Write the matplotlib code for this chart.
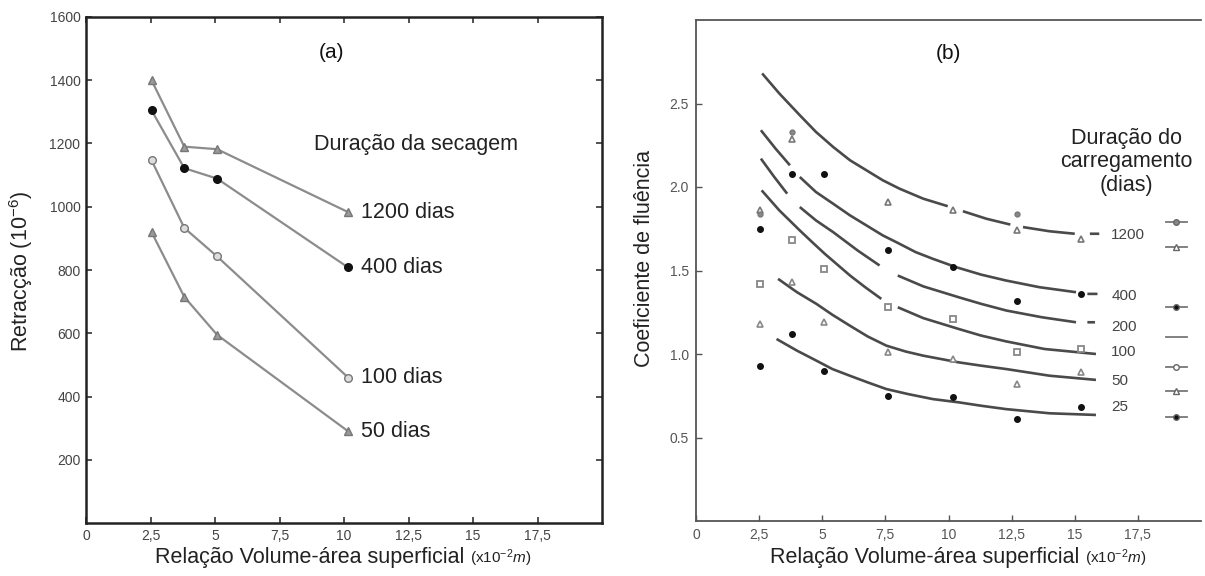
import numpy as np
import matplotlib.pyplot as plt

plt.rcParams['font.family'] = ['Liberation Sans', 'DejaVu Sans']
plt.rcParams['mathtext.fontset'] = 'custom'
plt.rcParams['mathtext.rm'] = 'Liberation Sans'
plt.rcParams['mathtext.it'] = 'Liberation Sans:italic'

nan = np.nan

# ---- (a) retracção vs relação volume-área
vs_a = [2.54, 3.81, 5.08, 10.16]
retr_1200 = [1400, 1190, 1182, 983]
retr_400 = [1305, 1122, 1089, 808]
retr_100 = [1147, 933, 843, 460]
retr_50 = [920, 715, 595, 290]
dias_a = ["1200 dias", "400 dias", "100 dias", "50 dias"]

# ---- (b) coeficiente de fluência: pontos medidos
vs_b = [2.54, 3.81, 5.08, 7.62, 10.16, 12.7, 15.24]
vs_1200 = [2.54, 3.81, 7.62, 10.16, 12.7, 15.24]
fl_1200 = [1.86, 2.29, 1.91, 1.86, 1.74, 1.69]
vs_1200b = [2.54, 3.81, 12.7]
fl_1200b = [1.84, 2.33, 1.84]
fl_400 = [1.75, 2.08, 2.08, 1.62, 1.52, 1.32, 1.36]
fl_100 = [1.42, 1.68, 1.51, 1.28, 1.21, 1.01, 1.03]
fl_50 = [1.18, 1.43, 1.19, 1.01, 0.97, 0.82, 0.89]
fl_25 = [0.93, 1.12, 0.90, 0.75, 0.74, 0.61, 0.68]

# curvas ajustadas (nan = interrupção do traço)
cx_1200 = [2.62, 3.3, 4.11, 4.75, 5.43, 6.1, 6.75, 7.4, 8.06, 9.0, 9.97, nan,
           10.57, 11.5, 12.45, nan, 12.95, 14.0, 15.0, nan, 15.6, 15.97]
cy_1200 = [2.68, 2.56, 2.43, 2.33, 2.24, 2.16, 2.10, 2.04, 1.99, 1.93, 1.885, nan,
           1.855, 1.81, 1.775, nan, 1.76, 1.735, 1.72, nan, 1.72, 1.72]
cx_400 = [2.57, 3.15, 3.72, nan, 4.11, 4.75, 5.43, 6.1, 6.75, 7.4, 8.06, 8.7, 9.38,
          10.3, 11.3, 12.28, 13.6, 15.05, nan, 15.5, 15.9]
cy_400 = [2.34, 2.23, 2.13, nan, 2.06, 1.97, 1.90, 1.83, 1.77, 1.71, 1.66, 1.61, 1.57,
          1.52, 1.475, 1.44, 1.40, 1.37, nan, 1.36, 1.36]
cx_200 = [2.57, 3.1, 3.61, nan, 4.11, 4.75, 5.43, 6.4, 7.27, nan, 7.99, 9.0, 10.4,
          11.3, 12.3, 13.7, 15.05, nan, 15.5, 15.8]
cy_200 = [2.17, 2.06, 1.96, nan, 1.88, 1.80, 1.73, 1.62, 1.53, nan, 1.47, 1.405, 1.34,
          1.30, 1.26, 1.22, 1.19, nan, 1.19, 1.19]
cx_100 = [2.6, 3.3, 4.11, 4.6, 5.1, 6.1, 6.7, 7.34, nan, 7.99, 9.0, 10.4, 11.3, 12.3,
          13.8, 15.84]
cy_100 = [1.98, 1.86, 1.74, 1.67, 1.60, 1.47, 1.40, 1.33, nan, 1.28, 1.215, 1.15, 1.11,
          1.075, 1.03, 1.00]
cx_50 = [3.25, 4.0, 4.77, 5.4, 6.09, 6.8, 7.54, 8.3, 9.0, 10.4, 11.3, 12.28, 14.0, 15.84]
cy_50 = [1.45, 1.37, 1.30, 1.235, 1.17, 1.105, 1.05, 1.015, 0.99, 0.95, 0.93, 0.91,
         0.87, 0.845]
cx_25 = [3.19, 4.0, 4.77, 5.4, 6.09, 6.8, 7.54, 8.4, 9.38, 10.43, 11.3, 12.28, 14.0, 15.84]
cy_25 = [1.09, 1.02, 0.96, 0.91, 0.87, 0.83, 0.79, 0.76, 0.73, 0.71, 0.69, 0.67,
         0.645, 0.635]

dias_b = ["1200", "400", "200", "100", "50", "25"]
dias_b_y = [1.71, 1.35, 1.16, 1.01, 0.84, 0.68]
leg_y = [1.79, 1.64, 1.28, 1.10, 0.92, 0.78, 0.62]

xticks = [0, 2.5, 5, 7.5, 10, 12.5, 15, 17.5]
xticklabels = ["0", "2,5", "5", "7,5", "10", "12,5", "15", "17,5"]

fig = plt.figure(figsize=(12.05, 5.76), dpi=100)

# ================= (a)
ax1 = fig.add_axes([86/1205, 1-523/576, 516/1205, 506/576])
gl = '#8c8c8c'
ax1.plot(vs_a, retr_1200, color=gl, lw=1.6, marker='^', ms=5.5, mfc='#999', mec='#777')
ax1.plot(vs_a, retr_400, color=gl, lw=1.6, marker='o', ms=5.5, mfc='#111', mec='#111')
ax1.plot(vs_a, retr_100, color=gl, lw=1.6, marker='o', ms=5.5, mfc='#ddd', mec='#777')
ax1.plot(vs_a, retr_50, color=gl, lw=1.6, marker='^', ms=5.5, mfc='#999', mec='#777')
for yv, lab in zip([retr_1200[-1], retr_400[-1], retr_100[-1], retr_50[-1]], dias_a):
    ax1.text(10.65, yv, lab, fontsize=15.5, color='#222', va='center', ha='left')
ax1.text(8.85, 1196, "Duração da secagem", fontsize=15.5, color='#222', va='center', ha='left')
ax1.text(9.5, 1487, "(a)", fontsize=15, color='#111', va='center', ha='center')

ax1.set_xlim(0, 20)
ax1.set_ylim(0, 1600)
ax1.set_xticks(xticks)
ax1.set_xticklabels(xticklabels)
ax1.set_yticks(range(200, 1601, 200))
ax1.tick_params(direction='in', top=True, right=True, length=4, width=1.2,
                labelsize=10, labelcolor='#444', pad=4, color='#333')
for s in ax1.spines.values():
    s.set_linewidth(1.8)
    s.set_color('#222')

# ================= (b)
ax2 = fig.add_axes([696/1205, 1-521/576, 505/1205, 501/576])
cc = '#4a4a4a'
for cx, cy in [(cx_1200, cy_1200), (cx_400, cy_400), (cx_200, cy_200),
               (cx_100, cy_100), (cx_50, cy_50), (cx_25, cy_25)]:
    ax2.plot(cx, cy, color=cc, lw=1.9, solid_capstyle='butt', solid_joinstyle='round')

ax2.plot(vs_1200, fl_1200, ls='none', marker='^', ms=5, mfc='white', mec='#777', mew=1.2)
ax2.plot(vs_1200b, fl_1200b, ls='none', marker='o', ms=3.5, mfc='#888', mec='#777')
ax2.plot(vs_b, fl_400, ls='none', marker='o', ms=4, mfc='#111', mec='#111')
ax2.plot(vs_b, fl_100, ls='none', marker='s', ms=5, mfc='white', mec='#888', mew=1.3)
ax2.plot(vs_b, fl_50, ls='none', marker='^', ms=5, mfc='white', mec='#888', mew=1.2)
ax2.plot(vs_b, fl_25, ls='none', marker='o', ms=4, mfc='#111', mec='#111')

for yv, lab in zip(dias_b_y, dias_b):
    ax2.text(16.45, yv, lab, fontsize=11, color='#444', va='center', ha='left')

leg_m = ['o', '^', 'o', None, 'o', '^', 'o']
leg_fc = ['#888', 'white', '#111', 'none', 'white', 'white', '#111']
for yv, m, fc in zip(leg_y, leg_m, leg_fc):
    ax2.plot([18.6, 19.45], [yv, yv], color='#777', lw=1.3)
    if m is not None:
        ax2.plot([19.0], [yv], marker=m, ms=4, mfc=fc, mec='#666', ls='none')

ax2.text(17.05, 2.15, "Duração do\ncarregamento\n(dias)", fontsize=15.5, color='#222',
         ha='center', va='center', linespacing=1.15)
ax2.text(10.0, 2.80, "(b)", fontsize=15, color='#111', va='center', ha='center')

ax2.set_xlim(0, 20)
ax2.set_ylim(0, 3.0)
ax2.set_xticks(xticks)
ax2.set_xticklabels(xticklabels)
ax2.set_yticks([0.5, 1.0, 1.5, 2.0, 2.5])
ax2.set_yticklabels(["0.5", "1.0", "1.5", "2.0", "2.5"])
ax2.tick_params(direction='in', length=4, width=1.0, labelsize=10,
                labelcolor='#555', pad=5, color='#555')
for s in ax2.spines.values():
    s.set_linewidth(1.3)
    s.set_color('#555')
ax2.spines['right'].set_visible(False)

# ================= rótulos dos eixos
for ax, xc, yc in [(ax1, 0.434, -0.068), (ax2, 0.453, -0.072)]:
    t = ax.text(xc, yc, "Relação Volume-área superficial", transform=ax.transAxes,
                ha='center', va='center', fontsize=15.5, color='#222')
    ax.annotate(r"(x10$^{-2}$$\it{m}$)", xy=(1, 0.45), xycoords=t, xytext=(4, 0),
                textcoords='offset points', ha='left', va='center', fontsize=11, color='#222')

fig.text(21/1205, 1-272/576, r"Retracção (10$^{-6}$)", rotation=90, fontsize=15.5,
         color='#222', ha='center', va='center')
fig.text(644/1205, 1-258/576, "Coeficiente de fluência", rotation=90, fontsize=15.5,
         color='#222', ha='center', va='center')

fig.savefig("out.png", dpi=100)
